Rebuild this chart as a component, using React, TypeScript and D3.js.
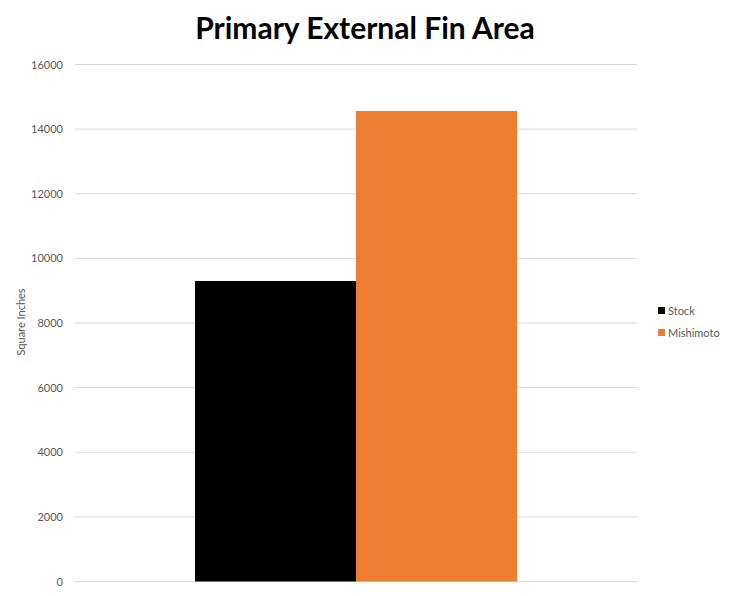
import React from "react";
import * as d3 from "d3";

const categories = ["Primary External Fin Area"];
const seriesNames = ["Stock", "Mishimoto"];
const seriesValues = [9300, 14560];
const seriesColors = ["#000000", "#ED7D31"];
const yTicks = [0, 2000, 4000, 6000, 8000, 10000, 12000, 14000, 16000];

const W = 732;
const H = 596;
const font = "Lato, 'Open Sans', sans-serif";

export default function App() {
  const x0 = 75, x1 = 637, yTop = 64.5, yBot = 581.5;
  const y = d3.scaleLinear().domain([0, 16000]).range([yBot, yTop]);
  const band = d3.scaleBand().domain(categories).range([x0, x1]).paddingOuter(0.3727).paddingInner(0);
  const inner = d3.scaleBand().domain(seriesNames).range([0, band.bandwidth()]);
  const bx = band(categories[0]) as number;
  return (
    <svg width={W} height={H} style={{ position: "absolute", left: 0, top: 0, background: "#fff" }}>
      <text x={365} y={39} textAnchor="middle" fontFamily={font} fontWeight="bold" fontSize={30} fill="#000">
        Primary External Fin Area
      </text>
      {yTicks.map((t) => (
        <g key={t}>
          <line x1={x0} x2={x1} y1={y(t)} y2={y(t)} stroke="#d9d9d9" strokeWidth={1} />
          <text x={63} y={y(t) + 4} textAnchor="end" fontFamily={font} fontSize={11} fill="#595959">
            {t}
          </text>
        </g>
      ))}
      {seriesNames.map((s, i) => (
        <rect
          key={s}
          x={bx + (inner(s) as number)}
          y={y(seriesValues[i])}
          width={inner.bandwidth()}
          height={y(0) - y(seriesValues[i])}
          fill={seriesColors[i]}
        />
      ))}
      <text
        transform={`translate(25,322) rotate(-90)`}
        textAnchor="middle"
        fontFamily={font}
        fontSize={11}
        fill="#595959"
      >
        Square Inches
      </text>
      {seriesNames.map((s, i) => (
        <g key={s} transform={`translate(658,${307 + i * 22})`}>
          <rect x={0} y={0} width={7} height={7} fill={seriesColors[i]} />
          <text x={10} y={7.5} fontFamily={font} fontSize={11} fill="#595959">
            {s}
          </text>
        </g>
      ))}
    </svg>
  );
}
